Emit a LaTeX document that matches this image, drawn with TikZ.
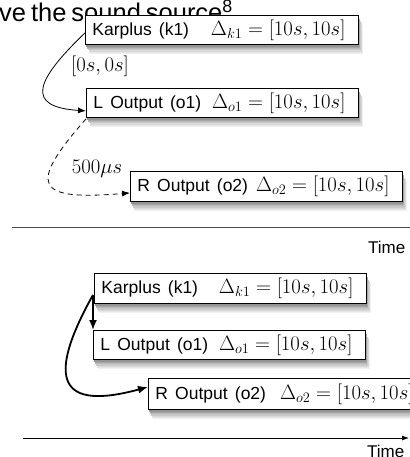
\documentclass[tikz,border=0pt]{standalone}
\usepackage[no-math]{fontspec}
\newfontfamily\helv[WordSpace=0.7]{Liberation Sans}
\usetikzlibrary{arrows.meta, calc}
\newcommand{\nm}[1]{{\fontsize{17.5}{20}\selectfont\helv #1}}
\newcommand{\dl}[1]{\hskip0pt plus1filll$#1$\kern6pt}
\newcommand{\boxshade}[4]{%
    \foreach \s/\g in {8/6,7/10,6/15,5/21,4/28,3/35,2/42,1/50}{
        \fill[black!\g] (#1+0.6*\s,#2+1.3*\s) rectangle ++(#3,#4);
    }}
\tikzset{
    box/.style={draw, line width=0.9pt, fill=white, anchor=north west,
        inner xsep=7pt, inner ysep=0pt, align=left, minimum height=29pt,
        font=\fontsize{21.5}{24}\selectfont},
    conn/.style={-{Latex[length=8pt,width=6pt]}, line width=0.8pt},
    bold/.style={-{Latex[length=10pt,width=8pt]}, line width=1.8pt},
    delay/.style={font=\fontsize{19.5}{23}\selectfont, inner sep=0pt},
    timeaxis/.style={line width=0.8pt},
    timelabel/.style={font=\fontsize{17}{20}\selectfont\helv, anchor=base west, inner sep=0pt}
}

\begin{document}
\begin{tikzpicture}[x=1pt, y=-1pt]
    \useasboundingbox (0,0) rectangle (409,457);
    \node[anchor=base west, inner sep=0pt, font=\fontsize{25.5}{30}\selectfont\helv] (title) at (-1,22) {ve the sound source\textsuperscript{8}};
    % shadows
    \boxshade{85}{15}{273}{29}
    \boxshade{86}{88}{272}{29}
    \boxshade{130}{171}{272}{30}
    \boxshade{94}{273}{272}{30}
    \boxshade{93}{330}{272}{29}
    \boxshade{148}{378}{280}{31}
    % upper schedule
    \node[box, text width=259pt] (k1) at (85,15) {\nm{Karplus (k1)}\dl{\Delta_{k1}=[10s,10s]}};
    \node[box, text width=258pt] (o1) at (86,88) {\nm{L Output (o1)}\dl{\Delta_{o1}=[10s,10s]}};
    \node[box, text width=258pt, minimum height=30pt] (o2) at (130,171) {\nm{R Output (o2)}\dl{\Delta_{o2}=[10s,10s]}};
    \coordinate (ka) at ($(k1.south west)+(0,-12)$);
    \coordinate (oa) at ($(o1.south west)+(0,-7)$);
    \coordinate (ob) at ($(o1.south west)+(0,1)$);
    \coordinate (rb) at ($(o2.south west)+(0,-9)$);
    \draw[conn] (ka) .. controls +(-50,48) and +(-61,-4) .. (oa);
    \node[delay] (d1) at (100,66) {$[0s,0s]$};
    \draw[conn, dash pattern=on 5pt off 4pt] (ob) .. controls +(-59,67) and +(-95,8) .. (rb);
    \node[delay] (d2) at (97,169) {$500\mu s$};
    \coordinate (t0) at (12,227);
    \coordinate (t1) at (412,227);
    \draw[timeaxis, black!70] (t0) -- (t1);
    \node[timelabel] (time1) at (368,253) {Time};
    % lower schedule
    \node[box, text width=258pt, minimum height=30pt] (k1b) at (94,273) {\nm{Karplus (k1)}\dl{\Delta_{k1}=[10s,10s]}};
    \node[box, text width=258pt] (o1b) at (93,330) {\nm{L Output (o1)}\dl{\Delta_{o1}=[10s,10s]}};
    \node[box, text width=266pt, minimum height=31pt] (o2b) at (148,378) {\nm{R Output (o2)}\hspace{14pt}$\Delta_{o2}=[10s,10s]$};
    \coordinate (kb) at ($(k1b.south west)+(-1,-9)$);
    \coordinate (rt) at ($(o2b.west)+(0,-7)$);
    \draw[bold] (kb) -- (kb |- o1b.north);
    \draw[bold] (kb) .. controls +(-48,86) and +(-88,24) .. (rt);
    \coordinate (u0) at (23,438);
    \coordinate (u1) at (409,438);
    \draw[timeaxis, -{Latex[length=7pt,width=5pt]}] (u0) -- (u1);
    \node[timelabel] (time2) at (367,457) {Time};
\end{tikzpicture}
\end{document}
